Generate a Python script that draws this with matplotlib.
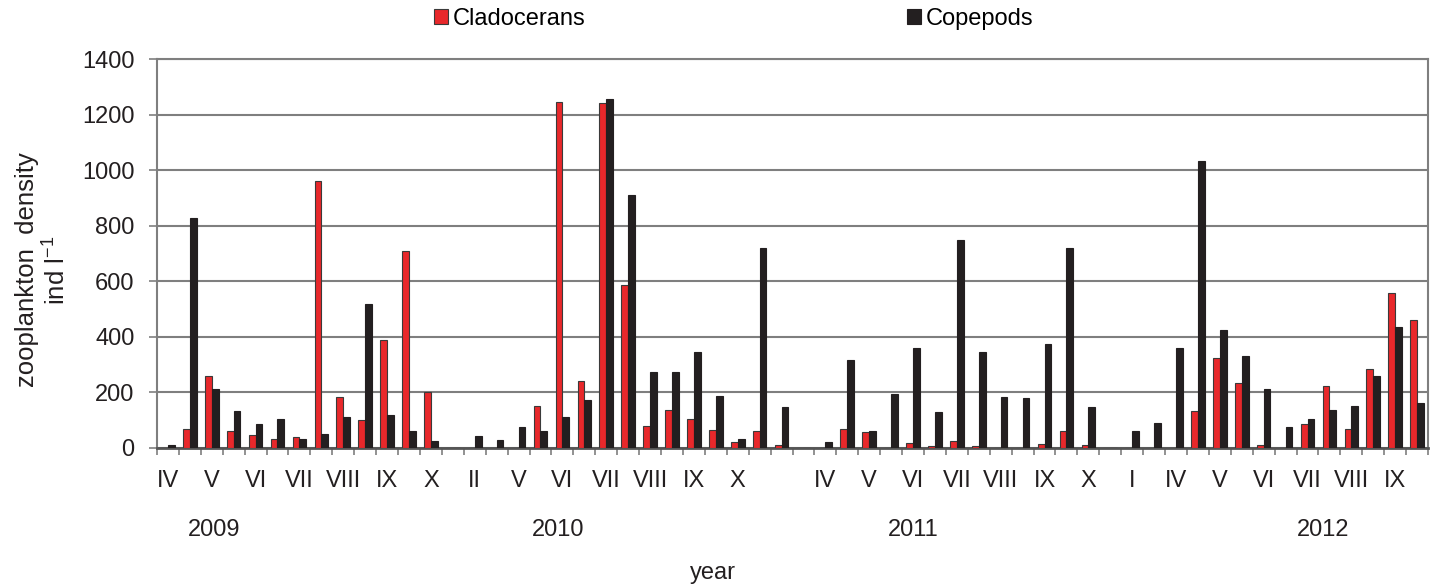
import numpy as np
from matplotlib import pyplot as plt
from matplotlib.transforms import blended_transform_factory

plt.rcParams['font.family'] = ['Liberation Sans', 'DejaVu Sans']
plt.rcParams['mathtext.fontset'] = 'custom'
plt.rcParams['mathtext.rm'] = 'Liberation Sans'

# month labels (every 2nd category is labelled on the axis)
months = ['IV', '', 'V', '', 'VI', '', 'VII', '', 'VIII', '', 'IX', '', 'X', '',
          'II', '', 'V', '', 'VI', '', 'VII', '', 'VIII', '', 'IX', '', 'X', '',
          '', '', 'IV', '', 'V', '', 'VI', '', 'VII', '', 'VIII', '', 'IX', '', 'X', '',
          'I', '', 'IV', '', 'V', '', 'VI', '', 'VII', '', 'VIII', '', 'IX', '']

cladocerans = [0, 70, 260, 60, 48, 31, 40, 961, 185, 100, 388, 709, 200, 0,
               0, 0, 0, 150, 1247, 240, 1244, 589, 81, 137, 105, 64, 22, 60,
               12, 0, 0, 67, 59, 0, 19, 6, 24, 7, 0, 0, 14, 60, 12, 0,
               0, 0, 0, 135, 326, 236, 11, 0, 88, 225, 70, 286, 558, 461]

copepods = [12, 829, 214, 132, 87, 106, 34, 49, 112, 520, 120, 60, 25, 0,
            42, 30, 75, 60, 111, 174, 1259, 911, 275, 275, 345, 189, 32, 721,
            149, 0, 22, 316, 60, 195, 362, 130, 751, 345, 185, 180, 376, 721, 149, 0,
            60, 90, 360, 1035, 424, 331, 212, 75, 105, 136, 150, 260, 436, 162]

years = ['2009', '2010', '2011', '2012']
year_pos = [2.1, 17.8, 34.0, 52.7]

red = '#e8282b'
black = '#231f20'
grid_col = '#7f7f7f'
fs = 17

fig = plt.figure(figsize=(14.4, 5.86), dpi=100)
ax = fig.add_axes([0.109, 0.2355, 0.8827, 0.663])

x = np.arange(len(months))
w = 0.31
ax.bar(x - w/2, cladocerans, w, color=red, edgecolor='#3a3a3a', linewidth=0.8,
       label='Cladocerans', zorder=3)
ax.bar(x + w/2, copepods, w, color=black, edgecolor=black, linewidth=0.8,
       label='Copepods', zorder=3)

ax.set_xlim(-0.5, len(months) - 0.5)
ax.set_ylim(0, 1400)
ax.set_yticks(np.arange(0, 1401, 200))
ax.yaxis.grid(True, color=grid_col, linewidth=1.5, zorder=0)
ax.set_axisbelow(True)

ax.set_xticks(x)
ax.set_xticklabels(months)
ax.set_xticks(np.arange(-0.5, len(months), 1), minor=True)
ax.tick_params(axis='x', which='major', length=0, pad=16, labelsize=fs, colors=black)
ax.tick_params(axis='x', which='minor', length=5, width=1.2, color=grid_col)
ax.tick_params(axis='y', length=6, width=1.2, color=grid_col, pad=10, labelsize=fs,
               labelcolor=black)

for s in ax.spines.values():
    s.set_color(grid_col)
    s.set_linewidth(1.5)
ax.spines['bottom'].set_color('#555555')
ax.spines['bottom'].set_linewidth(2)

ax.set_ylabel('zooplankton  density\nind l$^{\\mathrm{-1}}$', fontsize=18.5, color=black,
              linespacing=1.1)
ax.yaxis.set_label_coords(-0.069, 0.458)

# year labels below the month labels
trans = blended_transform_factory(ax.transData, fig.transFigure)
for yr, xp in zip(years, year_pos):
    ax.text(xp, 1 - 530 / 586, yr, transform=trans, ha='center', va='center',
            fontsize=fs, color=black)

fig.text(713 / 1440, 1 - 573 / 586, 'year', ha='center', va='center', fontsize=fs,
         color=black)

fig.legend(loc='center', bbox_to_anchor=(0.5095, 1 - 19 / 586), ncol=2, frameon=False,
           fontsize=fs, handlelength=0.6, handleheight=0.6, handletextpad=0.2,
           columnspacing=13.6)

fig.savefig('out.png', dpi=100)
